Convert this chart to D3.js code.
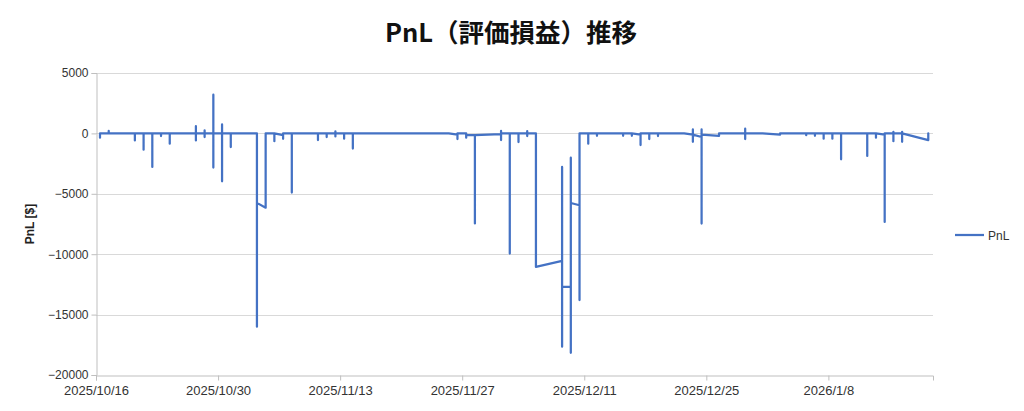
<!DOCTYPE html>
<html>
<head>
<meta charset="utf-8">
<script src="https://cdn.jsdelivr.net/npm/d3@7/dist/d3.min.js"></script>
<style>
  html, body { margin: 0; padding: 0; background: #fff; }
  svg { display: block; }
</style>
</head>
<body>
<svg id="chart" width="1024" height="411"></svg>
<script>
// ---- data ----
const chartTitle = "PnL（評価損益）推移";
const yAxisTitle = "PnL [$]";
const seriesName = "PnL";

// snapshot dates (several PnL snapshots may share one date)
const dates = [
  "2025-10-16","2025-10-17","2025-10-20","2025-10-21","2025-10-22","2025-10-23","2025-10-24",
  "2025-10-27","2025-10-28","2025-10-29","2025-10-30","2025-10-31",
  "2025-11-03","2025-11-04","2025-11-05","2025-11-06","2025-11-07",
  "2025-11-10","2025-11-11","2025-11-12","2025-11-13","2025-11-14",
  "2025-11-25","2025-11-26","2025-11-27","2025-11-28",
  "2025-12-01","2025-12-02","2025-12-03","2025-12-04","2025-12-05",
  "2025-12-08","2025-12-09","2025-12-10","2025-12-11","2025-12-12",
  "2025-12-15","2025-12-16","2025-12-17","2025-12-18","2025-12-19",
  "2025-12-22","2025-12-23","2025-12-24","2025-12-26",
  "2025-12-29","2025-12-30","2025-12-31","2026-01-02",
  "2026-01-05","2026-01-06","2026-01-07","2026-01-08","2026-01-09",
  "2026-01-12","2026-01-13","2026-01-14","2026-01-15","2026-01-16",
  "2026-01-19"
];
const pnl = [
  [-350, 0], [0, 200, 0], [0, -580, 0], [0, -1350, 0], [0, -2780, 0], [0, -220, 0], [0, -850, 0],
  [0, 600, -580, 0], [0, 250, -300, 0], [0, 3200, -2830, 0], [0, 740, -3970, 0], [0, -1130, 0],
  [0, -16000, -5750], [-6150, 0], [0, -640, 0], [-150, -450, 0], [0, -4900, 0],
  [0, -550, 0], [0, -300, 0], [0, 170, -250, 0], [0, -440, 0], [0, -1260, 0],
  [0], [-100, -470, 0], [0, -360, -150], [-150, -7450, -150],
  [-50, 200, -550, 0], [0, -9950, 0], [0, -720, 0], [0, 180, -220, 0], [0, -11050],
  [-10550, -17660, -2780, -12700], [-12700, -18160, -2010, -5760], [-5950, -13800, 0], [0, -850, 0], [0, -200, 0],
  [0, -200, 0], [0, -200, 0], [-100, -970, 0], [0, -470, 0], [0, -220, 0],
  [0], [-100, 330, -700, -100], [-300, 330, -7460, -100], [-200, 0],
  [0, 390, -470, 0], [0], [0], [-100, 0],
  [0, -150, 0], [0, -200, 0], [0, -440, 0], [0, -440, 0], [0, -2150, 0],
  [0, -1870, 0], [0, -360, 0], [-100, -7330, 0], [0, 130, -640, 0], [0, 130, -700, 0],
  [-550, 0]
];
const snapshotHour = 11; // time of day of the snapshots
const xTickLabels = ["2025/10/16","2025/10/30","2025/11/13","2025/11/27","2025/12/11","2025/12/25","2026/1/8"];
const yTicks = [5000, 0, -5000, -10000, -15000, -20000];

// ---- layout ----
const svg = d3.select("#chart");
const L = 96, R = 933, T = 73, B = 375;
const parse = d3.timeParse("%Y-%m-%d");
const tickDates = xTickLabels.map(d3.timeParse("%Y/%m/%d"));

const x = d3.scaleTime()
  .domain([parse("2025-10-16"), parse("2026-01-20")])
  .range([L, R]);
const y = d3.scaleLinear().domain([-20000, 5000]).range([B, T]);

const points = [];
dates.forEach((ds, i) => {
  const t = d3.timeHour.offset(parse(ds), snapshotHour);
  pnl[i].forEach(v => points.push({ t, v }));
});

const font = "'Liberation Sans', 'Noto Sans CJK JP', sans-serif";
const textColor = "#333";

// gridlines
svg.append("g")
  .selectAll("line")
  .data(yTicks.filter(v => v !== -20000))
  .join("line")
  .attr("x1", L).attr("x2", R)
  .attr("y1", d => Math.round(y(d)) + 0.5).attr("y2", d => Math.round(y(d)) + 0.5)
  .attr("stroke", "#d9d9d9").attr("stroke-width", 1);

// y axis
const yAxis = svg.append("g")
  .attr("transform", `translate(${L + 0.5},0)`)
  .call(d3.axisLeft(y).tickValues(yTicks).tickSize(5).tickPadding(3).tickFormat(d3.format("d")));
yAxis.select(".domain").attr("stroke", "#bfbfbf");
yAxis.selectAll(".tick line").attr("stroke", "#bfbfbf");
yAxis.selectAll(".tick text")
  .attr("font-family", font).attr("font-size", 12).attr("fill", textColor);

// x axis
const xAxis = svg.append("g")
  .attr("transform", `translate(0,${Math.round(B) + 0.5})`)
  .call(d3.axisBottom(x).tickValues(tickDates).tickSize(5).tickPadding(5)
    .tickFormat((d, i) => xTickLabels[i]));
xAxis.select(".domain").attr("stroke", "#bfbfbf");
xAxis.selectAll(".tick line").attr("stroke", "#bfbfbf");
xAxis.selectAll(".tick text")
  .attr("font-family", font).attr("font-size", 13).attr("fill", textColor);

// line
const line = d3.line().x(d => x(d.t)).y(d => y(d.v));
svg.append("path")
  .datum(points)
  .attr("d", line)
  .attr("fill", "none")
  .attr("stroke", "#4472c4")
  .attr("stroke-width", 2.25)
  .attr("stroke-linejoin", "round")
  .attr("stroke-linecap", "round");

// title
svg.append("text")
  .attr("x", 511).attr("y", 42)
  .attr("text-anchor", "middle")
  .attr("font-family", "'Noto Sans CJK JP', sans-serif")
  .attr("font-weight", "bold")
  .attr("font-size", 25.5)
  .attr("fill", "#111")
  .text(chartTitle);

// y axis title
svg.append("text")
  .attr("transform", `translate(34,${(T + B) / 2}) rotate(-90)`)
  .attr("text-anchor", "middle")
  .attr("font-family", font)
  .attr("font-weight", "bold")
  .attr("font-size", 12)
  .attr("fill", "#222")
  .text(yAxisTitle);

// legend
const lg = svg.append("g").attr("transform", "translate(955,235)");
lg.append("line").attr("x1", 0).attr("x2", 29).attr("y1", 0).attr("y2", 0)
  .attr("stroke", "#4472c4").attr("stroke-width", 2.25);
lg.append("text").attr("x", 33).attr("y", 4.5)
  .attr("font-family", font).attr("font-size", 12).attr("fill", textColor)
  .text(seriesName);
</script>
</body>
</html>
